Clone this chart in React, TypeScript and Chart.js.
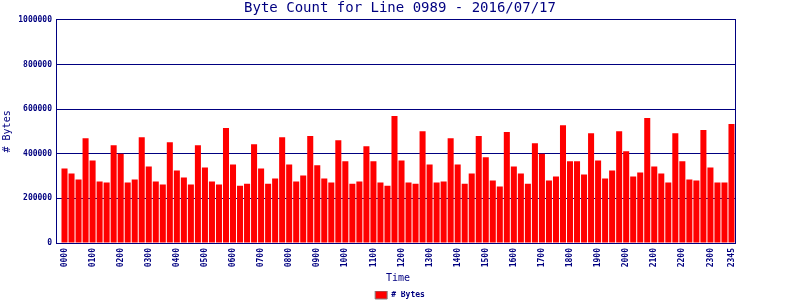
import React, { useEffect, useRef } from "react";
import { Chart, registerables } from "chart.js";

Chart.register(...registerables);

const chartTitle = "Byte Count for Line 0989 - 2016/07/17";
const xTitle = "Time";
const yTitle = "# Bytes";
const seriesName = "# Bytes";

const timeLabels = [
  "0000", "0015", "0030", "0045", "0100", "0115", "0130", "0145",
  "0200", "0215", "0230", "0245", "0300", "0315", "0330", "0345",
  "0400", "0415", "0430", "0445", "0500", "0515", "0530", "0545",
  "0600", "0615", "0630", "0645", "0700", "0715", "0730", "0745",
  "0800", "0815", "0830", "0845", "0900", "0915", "0930", "0945",
  "1000", "1015", "1030", "1045", "1100", "1115", "1130", "1145",
  "1200", "1215", "1230", "1245", "1300", "1315", "1330", "1345",
  "1400", "1415", "1430", "1445", "1500", "1515", "1530", "1545",
  "1600", "1615", "1630", "1645", "1700", "1715", "1730", "1745",
  "1800", "1815", "1830", "1845", "1900", "1915", "1930", "1945",
  "2000", "2015", "2030", "2045", "2100", "2115", "2130", "2145",
  "2200", "2215", "2230", "2245", "2300", "2315", "2330", "2345",
];

const byteCounts = [
  334000, 311000, 284000, 469000, 370000, 275000, 271000, 438000,
  400000, 271000, 284000, 474000, 343000, 275000, 262000, 451000,
  325000, 293000, 262000, 438000, 338000, 275000, 262000, 515000,
  352000, 257000, 266000, 442000, 334000, 266000, 289000, 474000,
  352000, 275000, 302000, 479000, 348000, 289000, 271000, 460000,
  366000, 266000, 275000, 433000, 366000, 271000, 257000, 569000,
  370000, 271000, 266000, 501000, 352000, 271000, 275000, 469000,
  352000, 266000, 311000, 479000, 384000, 280000, 253000, 497000,
  343000, 311000, 266000, 447000, 400000, 280000, 298000, 528000,
  366000, 366000, 307000, 492000, 370000, 289000, 325000, 501000,
  411000, 298000, 316000, 560000, 343000, 311000, 271000, 492000,
  366000, 284000, 280000, 506000, 338000, 271000, 271000, 533000,
];

const yMin = 0;
const yMax = 1000000;
const yStep = 200000;

const NAVY = "#000080";
const RED = "#ff0000";
const MONO = "'DejaVu Sans Mono', 'Liberation Mono', monospace";

const framePlugin = {
  id: "frame",
  afterDraw(chart: any) {
    const { ctx, chartArea } = chart;
    const l = Math.round(chartArea.left) - 4.5;
    const r = Math.round(chartArea.right) + 0.5;
    const t = Math.floor(chartArea.top) + 0.5;
    const b = Math.floor(chartArea.bottom) + 0.5;
    ctx.save();
    ctx.strokeStyle = NAVY;
    ctx.lineWidth = 1;
    ctx.strokeRect(l, t, r - l, b - t);
    ctx.restore();
  },
};

export default function App() {
  const ref = useRef<HTMLCanvasElement | null>(null);

  useEffect(() => {
    if (!ref.current) return;
    const chart = new Chart(ref.current, {
      type: "bar",
      data: {
        labels: timeLabels,
        datasets: [
          {
            label: seriesName,
            data: byteCounts,
            backgroundColor: RED,
            borderWidth: 0,
            barPercentage: 0.86,
            categoryPercentage: 1,
            yAxisID: "y",
          },
        ],
      },
      options: {
        responsive: false,
        animation: false,
        layout: { padding: { top: 0, left: 0, right: 0, bottom: -9 } },
        plugins: {
          title: {
            display: true,
            text: chartTitle,
            color: NAVY,
            font: { family: MONO, size: 14, weight: "normal" },
            padding: { top: 0, bottom: 3 },
          },
          legend: {
            display: true,
            position: "bottom",
            labels: {
              boxWidth: 12,
              boxHeight: 8,
              padding: 0,
              color: NAVY,
              font: { family: MONO, size: 8, weight: "bold" },
              generateLabels: () => [
                {
                  text: seriesName,
                  fillStyle: RED,
                  strokeStyle: "#808080",
                  lineWidth: 1,
                  hidden: false,
                  datasetIndex: 0,
                  fontColor: NAVY,
                },
              ],
            },
          },
          tooltip: { enabled: false },
        },
        scales: {
          x: {
            type: "category",
            offset: true,
            grid: { display: false, drawTicks: false },
            border: { display: false },
            ticks: {
              autoSkip: false,
              maxRotation: 90,
              minRotation: 90,
              padding: 5,
              color: NAVY,
              font: { family: MONO, size: 8, weight: "bold" },
              callback: (_v: any, i: number) =>
                i % 4 === 0 || i === timeLabels.length - 1 ? timeLabels[i] : "",
            },
            title: {
              display: true,
              text: xTitle,
              color: NAVY,
              font: { family: MONO, size: 10, weight: "normal" },
              padding: { top: 0, bottom: 7 },
            },
            afterFit: (s: any) => {
              s.height = 48;
            },
          },
          y: {
            type: "linear",
            position: "left",
            min: yMin,
            max: yMax,
            z: 1,
            grid: {
              color: NAVY,
              lineWidth: 1,
              drawTicks: true,
              tickLength: 4,
            },
            border: { display: false },
            ticks: {
              stepSize: yStep,
              padding: 5,
              color: NAVY,
              font: { family: MONO, size: 8, weight: "bold" },
              callback: (v: any) => String(v),
            },
            title: {
              display: true,
              text: yTitle,
              color: NAVY,
              font: { family: MONO, size: 10, weight: "normal" },
              padding: { top: 1, bottom: 0 },
            },
            afterFit: (s: any) => {
              s.width = 61;
            },
          },
          y2: {
            type: "linear",
            position: "right",
            display: true,
            grid: { display: false, drawTicks: false },
            border: { display: false },
            ticks: { display: false },
            afterFit: (s: any) => {
              s.width = 65;
            },
          },
        },
      },
      plugins: [framePlugin],
    } as any);
    return () => chart.destroy();
  }, []);

  return (
    <div style={{ position: "absolute", left: 0, top: 0, width: 800, height: 300, background: "#fff" }}>
      <canvas ref={ref} width={800} height={300} />
    </div>
  );
}
